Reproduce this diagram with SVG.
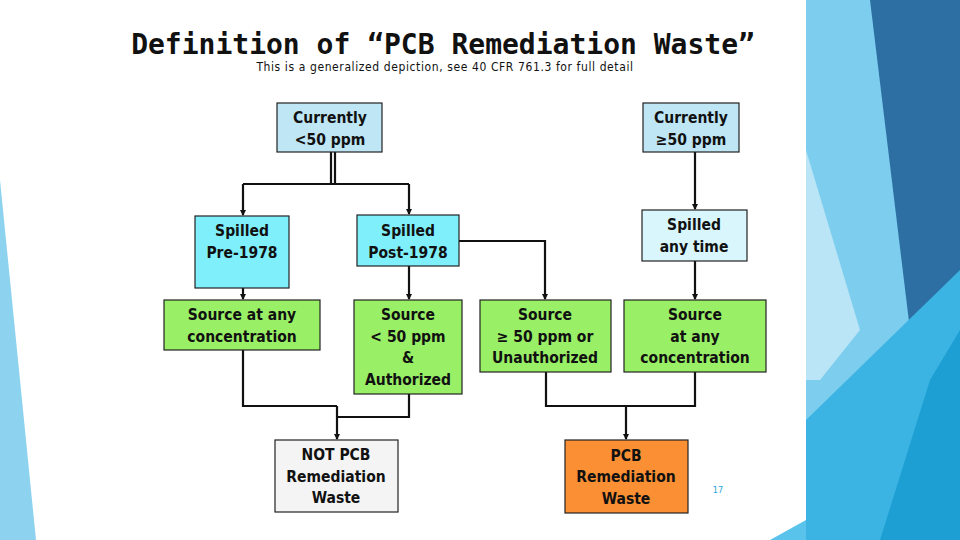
<svg xmlns="http://www.w3.org/2000/svg" width="960" height="540" viewBox="0 0 960 540">
<style>
.n{stroke:#222;stroke-width:1.2}
.t{font-family:"DejaVu Sans Condensed","DejaVu Sans","Liberation Sans",sans-serif;font-weight:bold;font-size:15.5px;fill:#111;text-anchor:middle}
.c{fill:none;stroke:#111;stroke-width:2.2}
</style>
<defs><marker id="a" markerWidth="6" markerHeight="6" refX="5" refY="3" orient="auto" markerUnits="userSpaceOnUse"><path d="M0,0L6,3L0,6Z" fill="#111"/></marker></defs>
<rect width="960" height="540" fill="#fff"/>
<g id="bg">
<polygon points="806,0 960,0 960,540 806,540" fill="#7ccdee"/>
<polygon points="870,0 960,0 960,420 910,330" fill="#2e6fa3"/>
<polygon points="806,150 860,330 820,380 806,380" fill="#b9e5f6"/>
<polygon points="806,420 960,270 960,540 806,540" fill="#3bb4e3"/>
<polygon points="880,540 930,380 960,330 960,540" fill="#1e9fd3"/>
<rect x="0" y="10" width="806" height="520" fill="#fff"/>
<polygon points="770,540 806,520 806,540" fill="#5ac3ec"/>
<polygon points="0,180 36,540 0,540" fill="#8dd3ef"/>
</g>
<text x="443" y="54" text-anchor="middle" font-family="DejaVu Sans Mono,monospace" font-weight="bold" font-size="28" fill="#111">Definition of “PCB Remediation Waste”</text>
<text x="445" y="71" text-anchor="middle" font-family="DejaVu Sans Condensed,DejaVu Sans,sans-serif" font-size="12" letter-spacing="0.6" fill="#111">This is a generalized depiction, see 40 CFR 761.3 for full detail</text>
<g id="connectors">
<path class="c" d="M331,152V184M335,152V184" stroke-width="1.5"/>
<path class="c" d="M243,184H409M243,184V215" marker-end="url(#a)"/>
<path class="c" d="M409,184V214" marker-end="url(#a)"/>
<path class="c" d="M459,241H545V299" marker-end="url(#a)"/>
<path class="c" d="M409,266V299" marker-end="url(#a)"/>
<path class="c" d="M243,288V299" marker-end="url(#a)"/>
<path class="c" d="M695,152V209" marker-end="url(#a)"/>
<path class="c" d="M695,261V299" marker-end="url(#a)"/>
<path class="c" d="M243,350V406H337M409,394V417H337"/>
<path class="c" d="M337,406V439" marker-end="url(#a)"/>
<path class="c" d="M546,372V406H695V372M626,406V439" marker-end="url(#a)"/>
</g>
<g id="n1"><rect class="n" x="277" y="103" width="105" height="49" fill="#bfe6f5"/><text class="t" x="330" y="123">Currently</text><text class="t" x="330" y="145">&lt;50 ppm</text></g>
<g id="n2"><rect class="n" x="643" y="103" width="96" height="49" fill="#bfe6f5"/><text class="t" x="691" y="123">Currently</text><text class="t" x="691" y="145">≥50 ppm</text></g>
<g id="n3"><rect class="n" x="195" y="216" width="94" height="72" fill="#7ff0fb"/><text class="t" x="242" y="236">Spilled</text><text class="t" x="242" y="258">Pre-1978</text></g>
<g id="n4"><rect class="n" x="357" y="215" width="102" height="51" fill="#7ff0fb"/><text class="t" x="408" y="236">Spilled</text><text class="t" x="408" y="258">Post-1978</text></g>
<g id="n5"><rect class="n" x="642" y="210" width="105" height="51" fill="#d8f6fb"/><text class="t" x="694" y="230">Spilled</text><text class="t" x="694" y="252">any time</text></g>
<g id="n6"><rect class="n" x="164" y="300" width="156" height="50" fill="#99ef66"/><text class="t" x="242" y="320">Source at any</text><text class="t" x="242" y="342">concentration</text></g>
<g id="n7"><rect class="n" x="354" y="300" width="108" height="94" fill="#99ef66"/><text class="t" x="408" y="320">Source</text><text class="t" x="408" y="342">&lt; 50 ppm</text><text class="t" x="408" y="363">&amp;</text><text class="t" x="408" y="385">Authorized</text></g>
<g id="n8"><rect class="n" x="480" y="300" width="131" height="72" fill="#99ef66"/><text class="t" x="545" y="320">Source</text><text class="t" x="545" y="342">≥ 50 ppm or</text><text class="t" x="545" y="363">Unauthorized</text></g>
<g id="n9"><rect class="n" x="624" y="300" width="142" height="72" fill="#99ef66"/><text class="t" x="695" y="320">Source</text><text class="t" x="695" y="342">at any</text><text class="t" x="695" y="363">concentration</text></g>
<g id="n10"><rect class="n" x="275" y="440" width="123" height="72" fill="#f4f4f4"/><text class="t" x="336" y="460">NOT PCB</text><text class="t" x="336" y="482">Remediation</text><text class="t" x="336" y="503">Waste</text></g>
<g id="n11"><rect class="n" x="565" y="440" width="123" height="73" fill="#fb8f33"/><text class="t" x="626" y="461">PCB</text><text class="t" x="626" y="482">Remediation</text><text class="t" x="626" y="504">Waste</text></g>
<text x="718" y="493" text-anchor="middle" font-family="DejaVu Sans Condensed,sans-serif" font-size="9" fill="#2aa5d8">17</text>
</svg>
